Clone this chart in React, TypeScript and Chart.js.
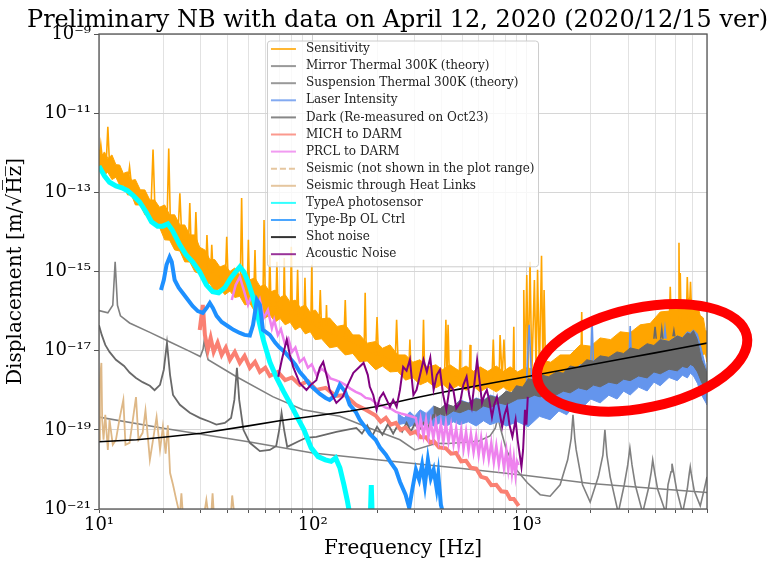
import React, { useEffect, useRef } from 'react';
import { Chart, registerables } from 'chart.js';

Chart.register(...registerables);

type Pt = [number, number | null];

// ---------------- text ----------------
const chartTitle = 'Preliminary NB with data on April 12, 2020 (2020/12/15 ver)';
const xAxisTitle = 'Frequency [Hz]';
const yAxisTitle = 'Displacement [m/\u221AH\u0305z\u0305]';

const xTickValues = [10, 20, 30, 40, 50, 60, 70, 80, 90, 100, 200, 300, 400, 500, 600, 700, 800, 900, 1000, 2000, 3000, 4000, 5000, 6000, 7000];
const xTickLabels = ['10¹', '', '', '', '', '', '', '', '', '10²', '', '', '', '', '', '', '', '', '10³', '', '', '', '', '', ''];
const yTickValues = [1e-21, 1e-19, 1e-17, 1e-15, 1e-13, 1e-11, 1e-9];
const yTickLabels = ['10⁻²¹', '10⁻¹⁹', '10⁻¹⁷', '10⁻¹⁵', '10⁻¹³', '10⁻¹¹', '10⁻⁹'];

const legendLabels = [
  'Sensitivity',
  'Mirror Thermal 300K (theory)',
  'Suspension Thermal 300K (theory)',
  'Laser Intensity',
  'Dark (Re-measured on Oct23)',
  'MICH to DARM',
  'PRCL to DARM',
  'Seismic (not shown in the plot range)',
  'Seismic through Heat Links',
  'TypeA photosensor',
  'Type-Bp OL Ctrl',
  'Shot noise',
  'Acoustic Noise',
];
const legendColors = ['#FFA500', '#808080', '#808080', '#6495ED', '#696969', '#FA8072', '#EE82EE', '#DEB887', '#DEB887', '#00FFFF', '#1E90FF', '#000000', '#800080'];
const legendDashed = [false, false, false, false, false, false, false, true, false, false, false, false, false];

// ---------------- data: [frequency Hz, displacement m/rtHz] ----------------
// Sensitivity: noisy band outline (upper edge left->right, lower edge right->left)
const sensitivityBand: Pt[] = [
  [10, 1.2e-12], [10.3, 8.4e-13], [10.6, 1.05e-12], [11, 7.2e-13], [11.5, 8.8e-13], [12, 5e-13], [12.5, 4.9e-13], [13, 3.0e-13],
  [13.6, 3.3e-13], [14.2, 2.0e-13], [14.8, 2.1e-13], [15.6, 1.16e-13], [16.4, 1.15e-13], [17.3, 6.4e-14], [18.2, 6.4e-14],
  [19.2, 4.2e-14], [20.3, 4.8e-14], [21.4, 2.7e-14], [22.6, 2.7e-14], [23.9, 1.5e-14], [25.2, 1.5e-14], [26.6, 8.4e-15],
  [28.1, 8.4e-15], [29.6, 4.1e-15], [31.3, 3.5e-15], [33, 2.0e-15], [34.8, 2.0e-15], [36.8, 1.3e-15], [38.8, 1.47e-15],
  [41, 1.0e-15], [43.2, 1.23e-15], [45.6, 8.2e-16], [48.2, 9.8e-16], [50.9, 6.2e-16], [53.7, 6.9e-16], [56.7, 4.2e-16],
  [59.8, 4.6e-16], [63.2, 3e-16], [66.7, 3.4e-16], [70.4, 2.2e-16], [74.3, 2.6e-16], [78.4, 1.7e-16], [82.8, 1.9e-16],
  [87.4, 1.24e-16], [92.3, 1.43e-16], [97.4, 9.3e-17], [102.8, 1.07e-16], [110, 6.4e-17], [120, 6.7e-17], [130, 4.1e-17],
  [142, 4.5e-17], [154, 2.5e-17], [166, 2.5e-17], [180, 1.55e-17], [197, 1.7e-17], [212, 1.15e-17], [230, 1.4e-17],
  [250, 7.8e-18], [272, 7.8e-18], [294, 5.1e-18], [318, 5.9e-18], [345, 3.8e-18], [377, 4.4e-18], [405, 3.3e-18],
  [439, 4.4e-18], [480, 3.2e-18], [522, 4.1e-18], [565, 3.0e-18], [607, 3.9e-18], [660, 3.0e-18], [723, 4.1e-18],
  [780, 3.0e-18], [839, 3.9e-18], [910, 2.9e-18], [986, 3.7e-18], [1070, 3.5e-18], [1160, 5.9e-18], [1300, 5.1e-18],
  [1438, 7.8e-18], [1600, 7.8e-18], [1785, 1.4e-17], [2000, 1.3e-17], [2214, 2.1e-17], [2480, 1.9e-17], [2747, 3.0e-17],
  [3050, 2.8e-17], [3409, 4.5e-17], [3800, 4.9e-17], [4229, 9.5e-17], [4650, 1.0e-16], [5083, 1.9e-16], [5450, 1.57e-16],
  [5845, 2.3e-16], [6050, 1.44e-16], [6300, 1.6e-16], [6500, 7.8e-17], [6730, 6.7e-17], [6870, 3.4e-17], [7000, 3.0e-17],
  [7000, 5.2e-18], [6870, 8.5e-18], [6730, 7.8e-18], [6500, 1.29e-17], [6300, 1.2e-17], [6050, 1.73e-17], [5845, 1.4e-17],
  [5450, 1.6e-17], [5083, 1.05e-17], [4650, 1.2e-17], [4229, 7.8e-18], [3800, 9e-18], [3409, 5.9e-18], [3050, 6.8e-18],
  [2747, 4.4e-18], [2480, 5.1e-18], [2214, 3.3e-18], [2000, 3.8e-18], [1785, 2.45e-18], [1600, 2.8e-18], [1438, 1.8e-18],
  [1300, 2.1e-18], [1160, 1.37e-18], [1070, 1.5e-18], [986, 9.1e-19], [910, 1.2e-18], [839, 9.1e-19], [780, 1.2e-18],
  [723, 9.1e-19], [660, 1.2e-18], [607, 9.1e-19], [565, 1.27e-18], [522, 1.0e-18], [480, 1.33e-18], [439, 1.0e-18],
  [405, 1.43e-18], [377, 1.15e-18], [345, 1.67e-18], [318, 1.37e-18], [294, 2.1e-18], [272, 1.8e-18], [250, 3.0e-18],
  [230, 2.9e-18], [212, 4.1e-18], [197, 3.3e-18], [180, 5.5e-18], [166, 5.2e-18], [154, 8.5e-18], [142, 7.8e-18],
  [130, 1.28e-17], [120, 1.18e-17], [110, 2e-17], [102.8, 1.9e-17], [97.4, 3e-17], [92.3, 2.65e-17], [87.4, 4e-17],
  [82.8, 3.35e-17], [78.4, 5.2e-17], [74.3, 4.5e-17], [70.4, 6.5e-17], [66.7, 5.3e-17], [63.2, 7.9e-17], [59.8, 6.7e-17],
  [56.7, 1.06e-16], [53.7, 9.5e-17], [50.9, 1.55e-16], [48.2, 1.43e-16], [45.6, 2.36e-16], [43.2, 2.2e-16], [41, 3.2e-16],
  [38.8, 2.6e-16], [36.8, 3.8e-16], [34.8, 3.1e-16], [33, 5e-16], [31.3, 4.6e-16], [29.6, 8.9e-16], [28.1, 9.8e-16],
  [26.6, 1.74e-15], [25.2, 1.75e-15], [23.9, 3.3e-15], [22.6, 3.5e-15], [21.4, 6.2e-15], [20.3, 6.3e-15], [19.2, 1.3e-14],
  [18.2, 1.5e-14], [17.3, 2.7e-14], [16.4, 2.7e-14], [15.6, 4.8e-14], [14.8, 4.8e-14], [14.2, 8.6e-14], [13.6, 8.6e-14],
  [13, 1.5e-13], [12.5, 1.5e-13], [12, 2.4e-13], [11.5, 2.1e-13], [11, 3.2e-13], [10.6, 2.8e-13], [10.3, 4.5e-13], [10, 4.1e-13],
];

const sensitivitySpikes: Pt[] = [
  [10.05, 7e-13], [10.2, 1.6e-12], [10.4, 6e-13], [10.8, 5e-13], [11.0, 4.5e-12], [11.2, 5e-13],
  [13.6, 1.7e-13], [13.9, 4.4e-13], [14.2, 1.5e-13], [17.5, 3.5e-14], [17.9, 1.2e-12], [18.3, 3e-14],
  [20.8, 1.5e-14], [21.2, 1.27e-12], [21.6, 1.3e-14], [23.4, 8e-15], [23.9, 9.5e-14], [24.4, 7e-15],
  [26.2, 4.5e-15], [26.6, 5.4e-14], [27.0, 4e-15], [28.0, 3e-15], [28.4, 3.2e-14], [28.9, 2.5e-15],
  [31.6, 1.3e-15], [32.0, 8.4e-15], [32.5, 1.2e-15], [33.3, 1e-15], [33.7, 4.7e-15], [34.2, 9e-16],
  [39.0, 6e-16], [39.6, 7.5e-15], [40.2, 6e-16], [45.8, 4.3e-16], [46.5, 7.2e-14], [47.2, 4e-16],
  [49.4, 3.5e-16], [50, 6.3e-15], [50.6, 3.3e-16], [53.0, 2.7e-16], [53.7, 3.5e-15], [54.4, 2.5e-16],
  [58.5, 1.9e-16], [59.2, 2e-14], [60, 1.8e-16], [62.3, 1.5e-16], [63, 2.6e-15], [63.8, 1.4e-16],
  [67.2, 1.2e-16], [68, 1.75e-15], [68.8, 1.2e-16], [73, 1.1e-16], [73.6, 2.2e-15], [74.3, 1.05e-16],
  [78.6, 9e-17], [79.4, 4.2e-15], [80.3, 9e-17], [84, 7.5e-17], [85, 1.1e-15], [86, 7.5e-17],
  [91, 6e-17], [92, 6.9e-16], [93, 6e-17], [98, 4.8e-17], [99, 1.47e-15], [100, 4.8e-17],
  [107, 3.8e-17], [108.5, 3.4e-16], [110, 3.8e-17], [115, 3e-17], [116, 1.43e-16], [117, 3e-17],
  [140, 1.9e-17], [142, 1.9e-16], [144, 1.9e-17], [174, 1.1e-17], [176, 2.9e-16], [178, 1.1e-17],
  [197, 8e-18], [200, 7.1e-17], [203, 8e-18], [243, 5e-18], [247, 6e-17], [251, 5e-18],
  [282, 4e-18], [285, 1.9e-17], [288, 4e-18], [326, 3e-18], [330, 6e-17], [334, 3e-18],
  [414, 2.3e-18], [420, 6e-17], [425, 2.3e-18], [430, 4.5e-17], [436, 2.3e-18],
  [485, 2e-18], [489, 1.05e-17], [493, 2e-18], [540, 2e-18], [545, 1.4e-17], [550, 2e-18],
  [690, 1.9e-18], [700, 1.9e-17], [710, 1.9e-18], [745, 1.9e-18], [753, 2.5e-17], [770, 1.9e-18],
  [785, 1.9e-17], [800, 1.9e-18], [865, 1.9e-18], [873, 4e-17], [880, 1.9e-18],
  [965, 2.3e-18], [972, 3.4e-16], [985, 2.3e-18], [1004, 8.2e-16], [1020, 2.5e-18], [1040, 1.75e-15],
  [1060, 2.5e-18], [1090, 6.1e-16], [1110, 2.6e-18], [1128, 1.1e-15], [1150, 2.7e-18], [1177, 2.5e-15],
  [1195, 2.8e-18], [1210, 3.4e-16], [1230, 3e-18], [1800, 5e-18], [1815, 9.5e-17], [1830, 5e-18],
  [4650, 3e-17], [4711, 4.1e-16], [4780, 3e-17], [5130, 4e-17], [5176, 5.3e-15], [5210, 4e-17],
  [5247, 9.2e-16], [5300, 4.5e-17], [5600, 5e-17], [5660, 7.3e-16], [5760, 5e-17], [5860, 5.5e-16], [5950, 5e-17],
];

const mirrorThermal: Pt[] = [
  [10, 2.1e-19], [20, 1.1e-19], [50, 5.0e-20], [100, 2.6e-20], [200, 1.75e-20], [500, 1.05e-20],
  [1000, 7e-21], [2000, 4.4e-21], [4000, 3.3e-21], [7000, 2.6e-21],
];

const suspensionThermal: Pt[] = [
  [10, 1.03e-16], [11, 9e-17], [11.6, 1.4e-16], [11.9, 1.75e-15], [12.2, 1.4e-16], [12.6, 7.6e-17], [13.9, 5e-17],
  [17.3, 2.9e-17], [21.5, 1.65e-17], [26.6, 9.6e-18], [29.8, 7.1e-18], [30.7, 1.1e-17], [31.1, 1.9e-17], [31.5, 1.1e-17],
  [32.4, 5.9e-18], [44, 2.2e-18], [65, 6.9e-19], [90, 3.2e-19], [134, 2.2e-19], [185, 1.1e-19], [256, 5.6e-20],
  [300, 3.1e-20], [380, 4.6e-20], [430, 4.5e-20], [500, 4.8e-20], [600, 5.2e-20], [676, 7e-20], [715, 1.1e-19],
  [736, 2.1e-19], [756, 1.1e-19], [806, 3.1e-20], [898, 9.8e-21], [1010, 4.6e-21], [1160, 2.3e-21], [1291, 2.1e-21],
  [1438, 4.1e-21], [1560, 1.75e-20], [1620, 6e-20], [1652, 2.4e-19], [1685, 6e-20], [1710, 3.1e-20], [1830, 4.1e-21],
  [1988, 1.5e-21], [2170, 6.5e-21], [2280, 2.3e-20], [2330, 1e-19], [2380, 2.3e-20], [2466, 6.5e-21], [2690, 8e-22],
  [2870, 4.1e-21], [2980, 1.3e-20], [3050, 3.5e-20], [3120, 1.3e-20], [3230, 4.1e-21], [3500, 8e-22], [3720, 3.2e-21],
  [3840, 8.7e-21], [3900, 1.75e-20], [3980, 8.7e-21], [4110, 3.2e-21], [4490, 8e-22], [4600, 4.1e-21], [4750, 8.7e-21],
  [4800, 1.4e-20], [4880, 8.7e-21], [5040, 3.2e-21], [5380, 8e-22], [5660, 3.2e-21], [5780, 7.7e-21], [5845, 1.16e-20],
  [5910, 7.7e-21], [6100, 2.9e-21], [6510, 1.2e-21], [6800, 3.2e-21], [7000, 6.5e-21],
];

const laserBand: Pt[] = [
  [250, 2.55e-19], [268, 2e-19], [285, 2.85e-19], [300, 2.2e-19], [318, 3.2e-19], [340, 2.6e-19], [368, 4.0e-19],
  [395, 3.2e-19], [420, 4.5e-19], [455, 3.8e-19], [489, 5.7e-19], [535, 4.8e-19], [582, 6.4e-19], [630, 5.5e-19],
  [676, 7.6e-19], [740, 6.5e-19], [806, 9.1e-19], [910, 8e-19], [1020, 1.37e-18], [1150, 1.3e-18], [1291, 2.05e-18],
  [1420, 1.9e-18], [1544, 3.3e-18], [1660, 3e-18], [1785, 4.4e-18], [2000, 4e-18], [2214, 6.6e-18], [2430, 6e-18],
  [2654, 8.3e-18], [2850, 7.5e-18], [3060, 1.05e-17], [3350, 9.5e-18], [3673, 1.4e-17], [3950, 1.3e-17], [4229, 1.9e-17],
  [4650, 1.7e-17], [5083, 2.35e-17], [5370, 2.1e-17], [5665, 3.0e-17], [5850, 2.8e-17], [6050, 3.35e-17], [6313, 2.65e-17],
  [6600, 1.05e-17], [7000, 2.9e-18],
  [7000, 4.3e-19], [6600, 7.6e-19], [6313, 1.5e-18], [6050, 2.3e-18], [5850, 2.7e-18], [5665, 2.05e-18], [5370, 2.4e-18],
  [5083, 1.75e-18], [4650, 2.1e-18], [4229, 1.3e-18], [3950, 1.6e-18], [3673, 9.6e-19], [3350, 1.2e-18], [3060, 7.6e-19],
  [2850, 9.5e-19], [2654, 6e-19], [2430, 7.5e-19], [2214, 4.8e-19], [2000, 6e-19], [1785, 3.2e-19], [1660, 4e-19],
  [1544, 2.4e-19], [1420, 3e-19], [1291, 1.8e-19], [1150, 2.2e-19], [1020, 1.2e-19], [910, 1.6e-19], [806, 1.25e-19],
  [740, 1.6e-19], [676, 1.35e-19], [630, 1.7e-19], [582, 1.25e-19], [535, 1.6e-19], [489, 1.35e-19], [455, 1.6e-19],
  [420, 1.2e-19], [395, 1.5e-19], [368, 1.25e-19], [340, 1.5e-19], [318, 1.1e-19], [300, 1.4e-19], [285, 1.2e-19],
  [268, 1.45e-19], [250, 1.35e-19],
];

const laserSpikes: Pt[] = [
  [1000, 1.3e-18], [1030, 4.5e-17], [1060, 1.5e-18], [1100, null],
  [2000, 5e-18], [2030, 5.3e-17], [2060, 5e-18], [2100, null],
  [3030, 1e-17], [3060, 4.2e-17], [3090, 1e-17], [3200, null],
  [4400, 2e-17], [4450, 3.6e-17], [4500, 2e-17],
];

const darkLow: Pt[] = [
  [10, 4.4e-17], [10.3, 2.5e-17], [10.7, 1.4e-17], [11.2, 9.3e-18], [12, 5.9e-18], [13.1, 4.1e-18], [13.9, 2.8e-18],
  [14.9, 2.05e-18], [16, 1.6e-18], [17.3, 1.3e-18], [18.2, 1.0e-18], [19.3, 1.37e-18], [20.1, 3.3e-18], [20.8, 1.57e-17],
  [21.5, 2.45e-18], [22.2, 7.6e-19], [23.9, 4.3e-19], [26.6, 2.7e-19], [29.6, 2.0e-19], [33, 1.6e-19], [35.4, 1.35e-19],
  [38.8, 1.5e-19], [41.5, 2.0e-19], [43, 5.7e-19], [44.2, 3.7e-18], [45.3, 5.7e-19], [47.4, 1e-19], [50.8, 4.7e-20],
  [56.6, 2.9e-20], [63, 3.1e-20], [67.5, 3.9e-20], [69.7, 1e-19], [71.5, 2.7e-19], [73.5, 1e-19], [76, 3.7e-20],
  [85, 5e-20], [93, 6.3e-20], [104, 6.6e-20], [129, 8.9e-20], [160, 1.12e-19], [170, 8e-20], [180, 1.3e-19],
  [190, 7e-20], [200, 1.2e-19], [212, 7.5e-20], [225, 1.4e-19], [238, 8e-20], [250, 1.3e-19], [262, 9e-20],
  [275, 1.5e-19], [288, 9e-20], [300, 1.4e-19], [315, 1e-19], [330, 1.5e-19], [345, 1.1e-19], [360, 1.8e-19], [368, 2.5e-19],
];

const darkBand: Pt[] = [
  [368, 4.0e-19], [395, 3.4e-19], [420, 4.5e-19], [455, 3.9e-19], [489, 5.4e-19], [535, 4.7e-19], [582, 6.1e-19],
  [630, 5.4e-19], [676, 7.2e-19], [740, 6.3e-19], [806, 9.6e-19], [850, 8.5e-19], [898, 1.3e-18], [960, 1.2e-18],
  [1020, 1.95e-18], [1090, 1.8e-18], [1160, 2.45e-18], [1270, 2.2e-18], [1385, 2.9e-18], [1490, 2.7e-18], [1602, 4.1e-18],
  [1750, 3.7e-18], [1917, 5.9e-18], [2060, 5.4e-18], [2214, 7.4e-18], [2430, 6.8e-18], [2654, 9.3e-18], [2850, 8.5e-18],
  [3060, 1.17e-17], [3350, 1.05e-17], [3673, 1.5e-17], [3950, 1.35e-17], [4229, 1.9e-17], [4650, 1.7e-17], [5083, 2.35e-17],
  [5370, 2.1e-17], [5665, 2.8e-17], [5850, 2.6e-17], [6050, 3.2e-17], [6313, 1.9e-17], [6600, 5.9e-18], [7000, 2.7e-18],
  [7000, 9.1e-19], [6600, 1.6e-18], [6313, 2.9e-18], [6050, 4.1e-18], [5850, 4.5e-18], [5665, 3.7e-18], [5370, 4e-18],
  [5083, 3.1e-18], [4650, 3.4e-18], [4229, 2.6e-18], [3950, 2.9e-18], [3673, 2.05e-18], [3350, 2.3e-18], [3060, 1.75e-18],
  [2850, 1.9e-18], [2654, 1.45e-18], [2430, 1.6e-18], [2214, 1.22e-18], [2060, 1.35e-18], [1917, 1.02e-18],
  [1750, 1.15e-18], [1602, 8.6e-19], [1490, 9.5e-19], [1385, 7.7e-19], [1270, 8.5e-19], [1160, 6.8e-19], [1090, 7.5e-19],
  [1020, 6.4e-19], [910, 6e-19], [806, 4.3e-19], [740, 4.8e-19], [676, 3.6e-19], [630, 4e-19], [582, 3.0e-19],
  [535, 3.3e-19], [489, 2.7e-19], [455, 3e-19], [420, 2.25e-19], [395, 2.5e-19], [368, 2.0e-19],
];

const darkSpikes: Pt[] = [
  [3950, 2e-17], [4000, 4e-17], [4050, 2e-17], [4150, null],
  [4250, 2e-17], [4300, 3.5e-17], [4350, 2e-17], [4600, null],
  [4850, 2.3e-17], [4900, 3.2e-17], [4950, 2.3e-17],
];

const michToDarm: Pt[] = [
  [29.6, 3.35e-17], [30.6, 1.43e-16], [31.3, 2.5e-17], [32.3, 1.05e-17], [33.3, 2.1e-17], [34.4, 9.3e-18], [35.9, 1.6e-17],
  [37.5, 7.8e-18], [39.2, 1.2e-17], [41, 5.9e-18], [43.2, 9.3e-18], [45.6, 4.9e-18], [48, 7.4e-18], [50.8, 3.7e-18],
  [53.7, 5.2e-18], [56.6, 2.9e-18], [60, 3.7e-18], [63, 2.3e-18], [68.7, 2.9e-18], [74.3, 1.8e-18], [80, 2.1e-18],
  [87, 1.37e-18], [95, 1.7e-18], [104, 1.02e-18], [115, 1.15e-18], [128, 7.2e-19], [142, 7.6e-19], [159, 4.3e-19],
  [177, 3.2e-19], [197, 2.3e-19], [208, 1.6e-19], [220, 2.0e-19], [232, 1.35e-19], [245, 1.5e-19], [258, 1.0e-19],
  [272, 1.15e-19], [287, 8e-20], [304, 9e-20], [320, 6.5e-20], [339, 6.5e-20], [355, 4.7e-20], [368, 5.2e-20],
  [390, 3.6e-20], [420, 3.4e-20], [444, 2.5e-20], [469, 2.6e-20], [495, 1.6e-20], [522, 1.65e-20], [550, 1.1e-20],
  [582, 1.05e-20], [614, 6.5e-21], [649, 6e-21], [685, 4e-21], [723, 4.1e-21], [763, 2.8e-21], [806, 2.7e-21],
  [840, 1.8e-21], [873, 1.8e-21], [920, 1.2e-21],
];

const prclToDarm: Pt[] = [
  [41.8, 1.9e-16], [43.6, 4.6e-16], [45.6, 7.3e-16], [47.6, 3.4e-16], [49.8, 1.43e-16], [52, 2.6e-16], [54.3, 9.5e-17],
  [56.6, 1.9e-16], [59, 6.7e-17], [61.7, 1.07e-16], [64.4, 3.7e-17], [66, 6e-17], [68.7, 2.5e-17], [71, 3.5e-17],
  [74.3, 1.4e-17], [77, 2e-17], [80, 9.3e-18], [83, 1.2e-17], [87, 5.2e-18], [91, 6.5e-18], [95, 3.7e-18], [99, 4.5e-18],
  [104, 2.45e-18], [110, 3.5e-18], [115, 2.9e-18], [121, 2.0e-18], [128, 1.8e-18], [135, 1.6e-18], [142, 1.37e-18],
  [150, 1.1e-18], [159, 9.1e-19], [168, 8e-19], [177, 6.4e-19], [187, 6e-19], [197, 4.8e-19], [208, 4.3e-19],
  [220, 3.6e-19], [232, 3.4e-19], [245, 2.85e-19], [258, 2.6e-19], [272, 2.4e-19], [288, 2.2e-19],
  [304, 2.0e-19], [312, 8e-20], [320, 1.9e-19], [330, 7e-20], [339, 1.8e-19], [348, 6.5e-20], [357, 1.6e-19],
  [367, 6e-20], [377, 1.6e-19], [388, 5.5e-20], [398, 1.5e-19], [409, 5e-20], [420, 1.5e-19], [432, 5e-20],
  [444, 1.3e-19], [456, 4.3e-20], [469, 1.1e-19], [482, 3.7e-20], [495, 1e-19], [508, 3.3e-20], [522, 9e-20],
  [536, 3e-20], [550, 8e-20], [566, 2.7e-20], [582, 7e-20], [598, 2.3e-20], [614, 6.3e-20], [631, 2e-20],
  [649, 5.5e-20], [667, 1.8e-20], [685, 4.7e-20], [704, 1.5e-20], [723, 4e-20], [743, 1.3e-20], [763, 3.5e-20],
  [785, 1.1e-20], [806, 3e-20], [823, 1e-20], [840, 2.5e-20], [856, 8e-21], [873, 2e-20], [890, 7e-21],
  [905, 1.6e-20], [920, 1.3e-20],
];

const seismicOutOfRange: Pt[] = [[10, 1e-24], [100, 1e-25], [1000, 1e-26], [7000, 1e-27]];

const seismicHeatLinks: Pt[] = [
  [10, 5.6e-20], [10.1, 1.8e-18], [10.26, 4.9e-18], [10.35, 1.8e-19], [10.5, 5.6e-20], [10.7, 2.4e-19], [11, 3.1e-20],
  [11.2, 1.8e-19], [11.6, 4.2e-20], [12, 5.6e-20], [12.5, 2e-19], [13, 5.7e-19], [13.3, 4.2e-20], [13.9, 4.7e-20],
  [14.4, 1.8e-19], [14.9, 6.7e-19], [15.3, 5.6e-20], [16, 8.4e-20], [16.5, 3.1e-19], [17.3, 1.75e-20], [17.9, 5.6e-20],
  [18.6, 2.1e-19], [19.3, 3.1e-20], [19.9, 1.2e-19], [20.5, 2.5e-20], [21, 1.3e-19], [21.5, 8.2e-21], [22.2, 4.1e-21],
  [23, 1.7e-21], [23.9, 7e-22], [24.3, 2.5e-21], [24.7, 7e-22], [28, null],
  [31, 7e-22], [31.8, 1.7e-21], [32.5, 7e-22], [33, null], [33.5, 7e-22], [34, 2.5e-21], [34.5, 7e-22], [38, null],
  [41.4, 7e-22], [42, 2.2e-21], [43, 7e-22],
];

const typeAPhotosensor: Pt[] = [
  [10, 4.6e-13], [10.6, 2.6e-13], [11.2, 1.8e-13], [12, 1.45e-13], [12.8, 1.3e-13], [13.6, 1.1e-13], [14.5, 8.1e-14],
  [15.5, 5.7e-14], [16.6, 3.2e-14], [17.6, 1.8e-14], [18.8, 1.4e-14], [19.9, 1.4e-14], [21, 1.6e-14], [22, 1.12e-14],
  [23.9, 4.7e-15], [25.6, 2.6e-15], [27.4, 1.75e-15], [29.6, 9.8e-16], [31.8, 4.6e-16], [34, 3.1e-16], [36.3, 2.9e-16],
  [38.8, 3.9e-16], [41.4, 6.9e-16], [43.6, 9.8e-16], [45.6, 1.3e-15], [47.6, 9.8e-16], [49.8, 5.5e-16], [52.6, 2.2e-16],
  [55.6, 6.7e-17], [58.7, 1.9e-17], [63, 5.2e-18], [67.8, 2.05e-18], [73.2, 9.1e-19], [79, 4.3e-19], [85, 2.0e-19],
  [91, 1e-19], [98.4, 3.5e-20], [106, 2.1e-20], [114.6, 1.75e-20], [122, 1.6e-20], [128, 1.95e-20], [134, 1.1e-20],
  [140, 4.1e-21], [145, 1.7e-21], [149.4, 7e-22], [170, null],
  [186, 6e-22], [188, 4e-21], [190, 6e-22],
];

const typeBpOLCtrl: Pt[] = [
  [19.5, 3.4e-16], [20.1, 6.1e-16], [20.7, 1.47e-15], [21.4, 2.3e-15], [21.9, 1.75e-15], [22.6, 6.1e-16], [23.6, 3.9e-16],
  [24.6, 2.9e-16], [26.1, 1.9e-16], [27.4, 1.35e-16], [29, 1.0e-16], [30.6, 9e-17], [31.9, 1.2e-16], [33, 1.6e-16],
  [34.1, 1.2e-16], [35.5, 7.6e-17], [37.5, 5.3e-17], [40, 4.2e-17], [42.6, 3.35e-17], [45.6, 2.8e-17], [48, 2.5e-17],
  [50.8, 2.4e-17], [52.6, 4.5e-17], [54.8, 1.9e-16], [56.6, 1.43e-16], [58.5, 3.35e-17], [63, 2.5e-17], [66.7, 1.6e-17],
  [70, 1.2e-17], [74, 9.3e-18], [78, 6.6e-18], [83, 4.4e-18], [87, 2.9e-18], [92, 2.05e-18], [97, 1.37e-18],
  [103, 1.02e-18], [108, 8.1e-19], [115, 6.4e-19], [120, 5.7e-19], [128, 7.6e-19], [134, 1.37e-18], [142, 9.1e-19],
  [149, 4.3e-19], [159, 2.85e-19], [166, 1.8e-19], [177, 1.12e-19], [185, 7.9e-20], [197, 5.6e-20], [207, 3.5e-20],
  [220, 2.35e-20], [230, 1.6e-20], [245, 9.8e-21], [256, 4.9e-21], [272, 2.3e-21], [283, 1.07e-21], [293, 3.3e-21],
  [304, 9.8e-21], [315, 5.5e-21], [325, 1.3e-20], [335, 4.1e-21], [346, 1.75e-20], [357, 6e-21], [368, 9.8e-21],
  [380, 3.3e-21], [387, 7.3e-21], [398, 1.27e-21], [406, 8.5e-22],
];

const shotNoise: Pt[] = [
  [10, 5.0e-20], [15, 5.6e-20], [20, 6.5e-20], [30, 8.2e-20], [50, 1.26e-19], [70, 1.7e-19], [100, 2.2e-19],
  [150, 3.0e-19], [200, 3.9e-19], [300, 6.4e-19], [400, 8.8e-19], [500, 1.1e-18], [700, 1.55e-18], [1000, 2.2e-18],
  [1500, 3.3e-18], [2000, 4.4e-18], [3000, 6.6e-18], [4000, 8.8e-18], [5000, 1.1e-17], [7000, 1.55e-17],
];

const acousticNoise: Pt[] = [
  [69, 2.2e-18], [71.7, 5.9e-18], [75.6, 1.9e-17], [78.2, 7.8e-18], [81, 3.9e-18], [87, 1.5e-18], [93.5, 1.02e-18],
  [98, 1.37e-18], [104, 1.8e-18], [108, 3.7e-18], [112, 5.2e-18], [117, 2.05e-18], [120, 1.02e-18], [129, 4.8e-19],
  [138, 6.8e-19], [146, 1.37e-18], [155, 2.75e-18], [164, 3.7e-18], [173, 4.9e-18], [181, 2.45e-18], [185, 1.22e-18],
  [192, 7.6e-19], [199, 3.2e-19], [206, 6.4e-19], [214, 8.6e-19], [222, 5.7e-19], [230, 3.8e-19], [238, 5.7e-19],
  [247, 3.8e-19], [256, 1.02e-18], [265, 3.9e-18], [275, 3.1e-18], [285, 5.9e-18], [296, 7.6e-19], [306, 1.02e-18],
  [318, 2.45e-18], [330, 5.9e-18], [342, 2.9e-18], [355, 6.7e-18], [368, 1.02e-18], [381, 2.45e-18], [394, 3.3e-18],
  [408, 7.6e-19], [422, 3.2e-19], [439, 1.37e-18], [455, 1.02e-18], [470, 3.5e-19], [489, 4.8e-19], [507, 1.37e-18],
  [525, 2.2e-18], [540, 7.6e-19], [555, 3.8e-19], [570, 1.37e-18], [588, 5.9e-18], [603, 1.8e-18], [620, 4.8e-19],
  [636, 7.6e-19], [653, 1.02e-18], [670, 5.7e-19], [690, 2.1e-19], [707, 4.3e-19], [728, 6.8e-19], [746, 3.2e-19],
  [770, 1.2e-19], [790, 2.4e-19], [812, 3.8e-19], [833, 1.35e-19], [860, 6.7e-20], [872, 1e-19], [890, 1.8e-19],
  [910, 5.6e-20], [948, 1.17e-20], [965, 3.1e-20], [985, 3.2e-19], [1000, 1.35e-19], [1015, 6.8e-19],
];

// ---------------- annotation ----------------
const ellipseCenter: [number, number] = [3480, 6.6e-18];
const ellipseRadiusPx: [number, number] = [107, 50];
const ellipseTiltDeg = -12;

const FONT = '"DejaVu Serif", "Liberation Serif", serif';

function xy(arr: Pt[]) {
  return arr.map(([x, y]) => ({ x, y }));
}

export default function App() {
  const ref = useRef<HTMLCanvasElement>(null);

  useEffect(() => {
    const canvas = ref.current;
    if (!canvas) return;

    const line = (data: Pt[], color: string, width: number, extra: any = {}) => ({
      type: 'line',
      data: xy(data),
      borderColor: color,
      backgroundColor: color,
      borderWidth: width,
      pointRadius: 0,
      pointHoverRadius: 0,
      tension: 0,
      fill: false,
      spanGaps: false,
      clip: 0,
      ...extra,
    });
    const band = (data: Pt[], color: string) => line(data, color, 1, { fill: 'shape' });

    const list: any[] = [
      band(sensitivityBand, '#FFA500'),
      line(sensitivitySpikes, '#FFA500', 1.6),
      line(mirrorThermal, '#808080', 1.6),
      line(suspensionThermal, '#808080', 1.6),
      band(laserBand, '#6495ED'),
      line(laserSpikes, '#6495ED', 1.6),
      line(darkLow, '#696969', 1.8),
      band(darkBand, '#696969'),
      line(darkSpikes, '#696969', 1.6),
      line(michToDarm, '#FA8072', 4),
      line(prclToDarm, '#EE82EE', 2.5),
      line(seismicOutOfRange, '#DEB887', 1.5, { borderDash: [6, 3] }),
      line(seismicHeatLinks, '#DEB887', 1.8),
      line(typeAPhotosensor, '#00FFFF', 5),
      line(typeBpOLCtrl, '#1E90FF', 4),
      line(shotNoise, '#000000', 1.6),
      line(acousticNoise, '#800080', 2),
    ];
    const datasets = list.map((d, i) => ({ ...d, order: -i }));

    const overlay = {
      id: 'nbOverlay',
      afterDraw(chart: any) {
        const { ctx, chartArea: a } = chart;
        ctx.save();
        // frame (spines)
        ctx.strokeStyle = '#555555';
        ctx.lineWidth = 1.3;
        ctx.strokeRect(a.left, a.top, a.right - a.left, a.bottom - a.top);

        // legend
        ctx.font = `12px ${FONT}`;
        const maxW = Math.max(...legendLabels.map((l) => ctx.measureText(l).width));
        const rowH = 17.1;
        const w = 3.5 + 25 + 10 + maxW + 4;
        const h = rowH * legendLabels.length + 3.5;
        const lx = (a.left + a.right) / 2 - w / 2;
        const ly = a.top + 7;
        const r = 3;
        ctx.beginPath();
        ctx.moveTo(lx + r, ly);
        ctx.lineTo(lx + w - r, ly);
        ctx.quadraticCurveTo(lx + w, ly, lx + w, ly + r);
        ctx.lineTo(lx + w, ly + h - r);
        ctx.quadraticCurveTo(lx + w, ly + h, lx + w - r, ly + h);
        ctx.lineTo(lx + r, ly + h);
        ctx.quadraticCurveTo(lx, ly + h, lx, ly + h - r);
        ctx.lineTo(lx, ly + r);
        ctx.quadraticCurveTo(lx, ly, lx + r, ly);
        ctx.closePath();
        ctx.fillStyle = 'rgba(255,255,255,0.8)';
        ctx.fill();
        ctx.strokeStyle = '#cccccc';
        ctx.lineWidth = 1;
        ctx.stroke();
        legendLabels.forEach((label, i) => {
          const cy = ly + 8 + i * rowH;
          ctx.save();
          ctx.globalAlpha = 0.8;
          ctx.strokeStyle = legendColors[i];
          ctx.lineWidth = 2;
          ctx.setLineDash(legendDashed[i] ? [6, 3] : []);
          ctx.beginPath();
          ctx.moveTo(lx + 3.5, cy);
          ctx.lineTo(lx + 28.5, cy);
          ctx.stroke();
          ctx.restore();
          ctx.fillStyle = '#222222';
          ctx.textBaseline = 'middle';
          ctx.textAlign = 'left';
          ctx.fillText(label, lx + 38.5, cy);
        });

        // red ellipse annotation
        const ex = chart.scales.x.getPixelForValue(ellipseCenter[0]);
        const ey = chart.scales.y.getPixelForValue(ellipseCenter[1]);
        ctx.beginPath();
        ctx.ellipse(ex, ey, ellipseRadiusPx[0], ellipseRadiusPx[1], (ellipseTiltDeg * Math.PI) / 180, 0, Math.PI * 2);
        ctx.strokeStyle = '#ff0000';
        ctx.lineWidth = 10;
        ctx.stroke();

        // title
        ctx.font = `24px ${FONT}`;
        ctx.fillStyle = '#000000';
        ctx.textAlign = 'center';
        ctx.textBaseline = 'alphabetic';
        const tw = ctx.measureText(chartTitle).width;
        const sx = Math.max(0.85, Math.min(1.15, 741 / tw));
        ctx.translate(397.5, 27);
        ctx.scale(sx, 1);
        ctx.fillText(chartTitle, 0, 0);
        ctx.restore();
      },
    };

    const chart = new Chart(canvas, {
      type: 'line',
      data: { datasets },
      options: {
        responsive: false,
        animation: false,
        devicePixelRatio: 1,
        layout: { padding: { top: 34, right: 63, left: 0, bottom: 0 } },
        plugins: {
          legend: { display: false },
          tooltip: { enabled: false },
          title: { display: false },
        },
        events: [],
        scales: {
          x: {
            type: 'logarithmic',
            min: 10,
            max: 7000,
            afterBuildTicks: (s: any) => {
              s.ticks = xTickValues.map((v) => ({ value: v }));
            },
            afterFit: (s: any) => {
              s.height = 54;
            },
            ticks: {
              autoSkip: false,
              maxRotation: 0,
              padding: 2,
              color: '#000000',
              font: { family: FONT, size: 18 },
              callback: (_v: any, i: number) => xTickLabels[i] ?? '',
            },
            grid: {
              color: (c: any) => ([10, 100, 1000].includes(c.tick?.value) ? '#d0d0d0' : '#e2e2e2'),
              lineWidth: 1,
              tickLength: 4,
              tickColor: '#555555',
            },
            border: { display: false },
            title: {
              display: true,
              text: xAxisTitle,
              color: '#000000',
              font: { family: FONT, size: 20 },
              padding: { top: 0, bottom: 2 },
            },
          },
          y: {
            type: 'logarithmic',
            min: 1e-21,
            max: 1e-9,
            afterBuildTicks: (s: any) => {
              s.ticks = yTickValues.map((v) => ({ value: v }));
            },
            afterFit: (s: any) => {
              s.width = 99;
            },
            ticks: {
              autoSkip: false,
              padding: 3,
              color: '#000000',
              font: { family: FONT, size: 18 },
              callback: (_v: any, i: number) => yTickLabels[i] ?? '',
            },
            grid: {
              color: '#d6d6d6',
              lineWidth: 1,
              tickLength: 5,
              tickColor: '#555555',
            },
            border: { display: false },
            title: {
              display: true,
              text: yAxisTitle,
              color: '#000000',
              font: { family: FONT, size: 20 },
              padding: { top: 4, bottom: 0 },
            },
          },
        },
      } as any,
      plugins: [overlay],
    });

    return () => chart.destroy();
  }, []);

  return (
    <div style={{ position: 'fixed', left: 0, top: 0, width: 770, height: 563, background: '#ffffff' }}>
      <canvas ref={ref} width={770} height={563} style={{ display: 'block' }} />
    </div>
  );
}
